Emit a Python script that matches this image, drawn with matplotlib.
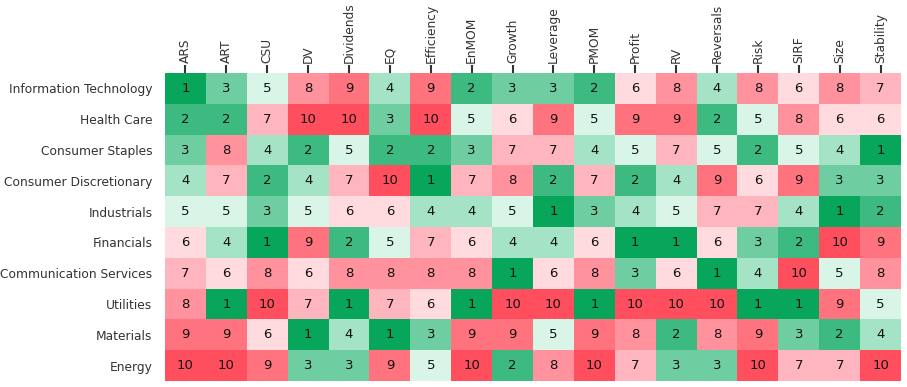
import numpy as np
import matplotlib
matplotlib.use("Agg")
import matplotlib.pyplot as plt
from matplotlib.colors import ListedColormap, BoundaryNorm

factors = ["ARS", "ART", "CSU", "DV", "Dividends", "EQ", "Efficiency", "EnMOM",
           "Growth", "Leverage", "PMOM", "Profit", "RV", "Reversals", "Risk",
           "SIRF", "Size", "Stability"]
sectors = ["Information Technology", "Health Care", "Consumer Staples",
           "Consumer Discretionary", "Industrials", "Financials",
           "Communication Services", "Utilities", "Materials", "Energy"]

info_tech = [1, 3, 5, 8, 9, 4, 9, 2, 3, 3, 2, 6, 8, 4, 8, 6, 8, 7]
health_care = [2, 2, 7, 10, 10, 3, 10, 5, 6, 9, 5, 9, 9, 2, 5, 8, 6, 6]
cons_staples = [3, 8, 4, 2, 5, 2, 2, 3, 7, 7, 4, 5, 7, 5, 2, 5, 4, 1]
cons_discr = [4, 7, 2, 4, 7, 10, 1, 7, 8, 2, 7, 2, 4, 9, 6, 9, 3, 3]
industrials = [5, 5, 3, 5, 6, 6, 4, 4, 5, 1, 3, 4, 5, 7, 7, 4, 1, 2]
financials = [6, 4, 1, 9, 2, 5, 7, 6, 4, 4, 6, 1, 1, 6, 3, 2, 10, 9]
comm_services = [7, 6, 8, 6, 8, 8, 8, 8, 1, 6, 8, 3, 6, 1, 4, 10, 5, 8]
utilities = [8, 1, 10, 7, 1, 7, 6, 1, 10, 10, 1, 10, 10, 10, 1, 1, 9, 5]
materials = [9, 9, 6, 1, 4, 1, 3, 9, 9, 5, 9, 8, 2, 8, 9, 3, 2, 4]
energy = [10, 10, 9, 3, 3, 9, 5, 10, 2, 8, 10, 7, 3, 3, 10, 7, 7, 10]

ranks = np.array([info_tech, health_care, cons_staples, cons_discr, industrials,
                  financials, comm_services, utilities, materials, energy])

# 10-step green -> red palette
palette = ["#07a65a", "#3cba80", "#6ecea2", "#a5e3c7", "#d8f5e8",
           "#ffdadf", "#ffb5bd", "#ff929c", "#ff737e", "#ff4f5e"]
cmap = ListedColormap(palette)
norm = BoundaryNorm(np.arange(0.5, 11.5, 1), cmap.N)

fig = plt.figure(figsize=(9.07, 3.87), dpi=100)
ax = fig.add_axes([165 / 907, 6 / 387, 736 / 907, 308 / 387])

ax.pcolormesh(ranks, cmap=cmap, norm=norm)
ax.set_xlim(0, len(factors))
ax.set_ylim(len(sectors), 0)

for i in range(ranks.shape[0]):
    for j in range(ranks.shape[1]):
        ax.text(j + 0.5, i + 0.5, str(ranks[i, j]), ha="center", va="center",
                fontsize=9.5, color="#111111")

label_color = "#333333"
ax.xaxis.tick_top()
ax.set_xticks(np.arange(len(factors)) + 0.5)
ax.set_xticklabels(factors, rotation=90, fontsize=8.8, color=label_color)
ax.set_yticks(np.arange(len(sectors)) + 0.5)
ax.set_yticklabels(sectors, fontsize=8.8, color=label_color)
ax.tick_params(axis="x", length=6, width=1.5, color="#333333", pad=1.5)
ax.tick_params(axis="y", length=0, pad=9)

for s in ax.spines.values():
    s.set_visible(False)

plt.savefig("out.png", dpi=100)
plt.close()
